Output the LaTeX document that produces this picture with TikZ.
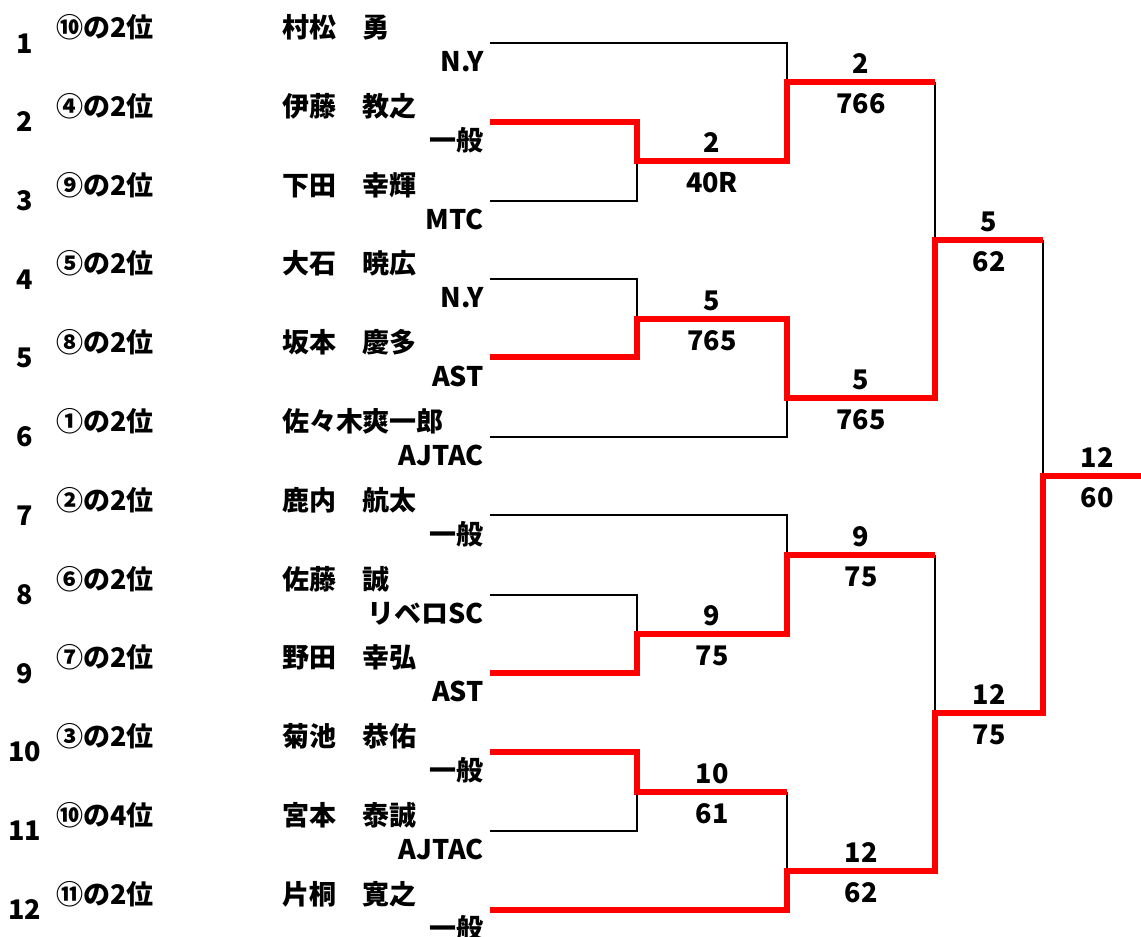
\documentclass[tikz,border=0pt]{standalone}
\usepackage{fontspec}
\setmainfont{Noto Sans CJK JP}
\tikzset{
  loser/.style={line width=2.2pt, black},
  winner/.style={line width=5.5pt, red},
  txt/.style={font=\bfseries\fontsize{27}{27}\selectfont, inner sep=0pt},
  seed/.style={txt, anchor=base west},
  club/.style={txt, anchor=base east},
  score/.style={txt, anchor=base}
}
\begin{document}
\begin{tikzpicture}[x=1pt, y=-1pt]
      \useasboundingbox (0,0) rectangle (1141,937);

        % black lines
        \draw[loser] (490,43) -| (787,82);
        \draw[loser] (490,201) -| (637,161);
        \draw[loser] (490,279) -| (637,319);
        \draw[loser] (490,437) -| (787,398);
        \draw[loser] (935,82) -- (935,240);
        \draw[loser] (1043,240) -- (1043,476);
        \draw[loser] (490,515) -| (787,555);
        \draw[loser] (490,595) -| (637,634);
        \draw[loser] (490,831) -| (637,792);
        \draw[loser] (787,792) -- (787,871);
        \draw[loser] (935,555) -- (935,713);

        % red lines
        \draw[winner] (490,122) -| (637,161) -| (787,82) -- (935,82);
        \draw[winner] (490,357) -| (637,319) -| (787,398) -| (935,240) -- (1043,240);
        \draw[winner] (490,673) -| (637,634) -| (787,555) -- (935,555);
        \draw[winner] (490,752) -| (637,792) -- (787,792);
        \draw[winner] (490,910) -| (787,871) -| (935,713) -| (1043,476) -- (1141,476);

        \node[score] (no1) at (25,53) {1};
        \node[seed] (sd1) at (56,37) {⑩の2位};
        \node[seed] (nm1) at (282,37) {\makebox[80pt][l]{村松}勇};
        \node[club] (cl1) at (484,71) {N.Y};

        \node[score] (no2) at (25,131) {2};
        \node[seed] (sd2) at (56,116) {④の2位};
        \node[seed] (nm2) at (282,116) {\makebox[80pt][l]{伊藤}教之};
        \node[club] (cl2) at (484,150) {一般};

        \node[score] (no3) at (25,210) {3};
        \node[seed] (sd3) at (56,195) {⑨の2位};
        \node[seed] (nm3) at (282,195) {\makebox[80pt][l]{下田}幸輝};
        \node[club] (cl3) at (484,229) {MTC};

        \node[score] (no4) at (25,289) {4};
        \node[seed] (sd4) at (56,273) {⑤の2位};
        \node[seed] (nm4) at (282,273) {\makebox[80pt][l]{大石}暁広};
        \node[club] (cl4) at (484,307) {N.Y};

        \node[score] (no5) at (25,367) {5};
        \node[seed] (sd5) at (56,352) {⑧の2位};
        \node[seed] (nm5) at (282,352) {\makebox[80pt][l]{坂本}慶多};
        \node[club] (cl5) at (484,386) {AST};

        \node[score] (no6) at (25,446) {6};
        \node[seed] (sd6) at (56,431) {①の2位};
        \node[seed] (nm6) at (282,431) {\makebox[80pt][l]{佐々木}爽一郎};
        \node[club] (cl6) at (484,465) {AJTAC};

        \node[score] (no7) at (25,525) {7};
        \node[seed] (sd7) at (56,510) {②の2位};
        \node[seed] (nm7) at (282,510) {\makebox[80pt][l]{鹿内}航太};
        \node[club] (cl7) at (484,544) {一般};

        \node[score] (no8) at (25,604) {8};
        \node[seed] (sd8) at (56,589) {⑥の2位};
        \node[seed] (nm8) at (282,589) {\makebox[80pt][l]{佐藤}誠};
        \node[club] (cl8) at (484,623) {リベロSC};

        \node[score] (no9) at (25,683) {9};
        \node[seed] (sd9) at (56,667) {⑦の2位};
        \node[seed] (nm9) at (282,667) {\makebox[80pt][l]{野田}幸弘};
        \node[club] (cl9) at (484,701) {AST};

        \node[score] (no10) at (25,761) {10};
        \node[seed] (sd10) at (56,746) {③の2位};
        \node[seed] (nm10) at (282,746) {\makebox[80pt][l]{菊池}恭佑};
        \node[club] (cl10) at (484,780) {一般};

        \node[score] (no11) at (25,840) {11};
        \node[seed] (sd11) at (56,825) {⑩の4位};
        \node[seed] (nm11) at (282,825) {\makebox[80pt][l]{宮本}泰誠};
        \node[club] (cl11) at (484,859) {AJTAC};

        \node[score] (no12) at (25,919) {12};
        \node[seed] (sd12) at (56,904) {⑪の2位};
        \node[seed] (nm12) at (282,904) {\makebox[80pt][l]{片桐}寛之};
        \node[club] (cl12) at (484,938) {一般};

        % scores
        \node[score] (w23) at (712,152) {2};
        \node[score] (s23) at (712,192) {40R};
        \node[score] (w45) at (712,310) {5};
        \node[score] (s45) at (712,350) {765};
        \node[score] (w89) at (712,625) {9};
        \node[score] (s89) at (712,665) {75};
        \node[score] (w1011) at (712,783) {10};
        \node[score] (s1011) at (712,823) {61};

        \node[score] (wa) at (861,73) {2};
        \node[score] (sa) at (861,113) {766};
        \node[score] (wb) at (861,389) {5};
        \node[score] (sb) at (861,429) {765};
        \node[score] (wc) at (861,546) {9};
        \node[score] (sc) at (861,586) {75};
        \node[score] (wd) at (861,862) {12};
        \node[score] (sd) at (861,902) {62};

        \node[score] (wtop) at (989,231) {5};
        \node[score] (stop) at (989,271) {62};
        \node[score] (wbot) at (989,704) {12};
        \node[score] (sbot) at (989,744) {75};

        \node[score] (wfin) at (1097,467) {12};
        \node[score] (sfin) at (1097,507) {60};
      \end{tikzpicture}
\end{document}
